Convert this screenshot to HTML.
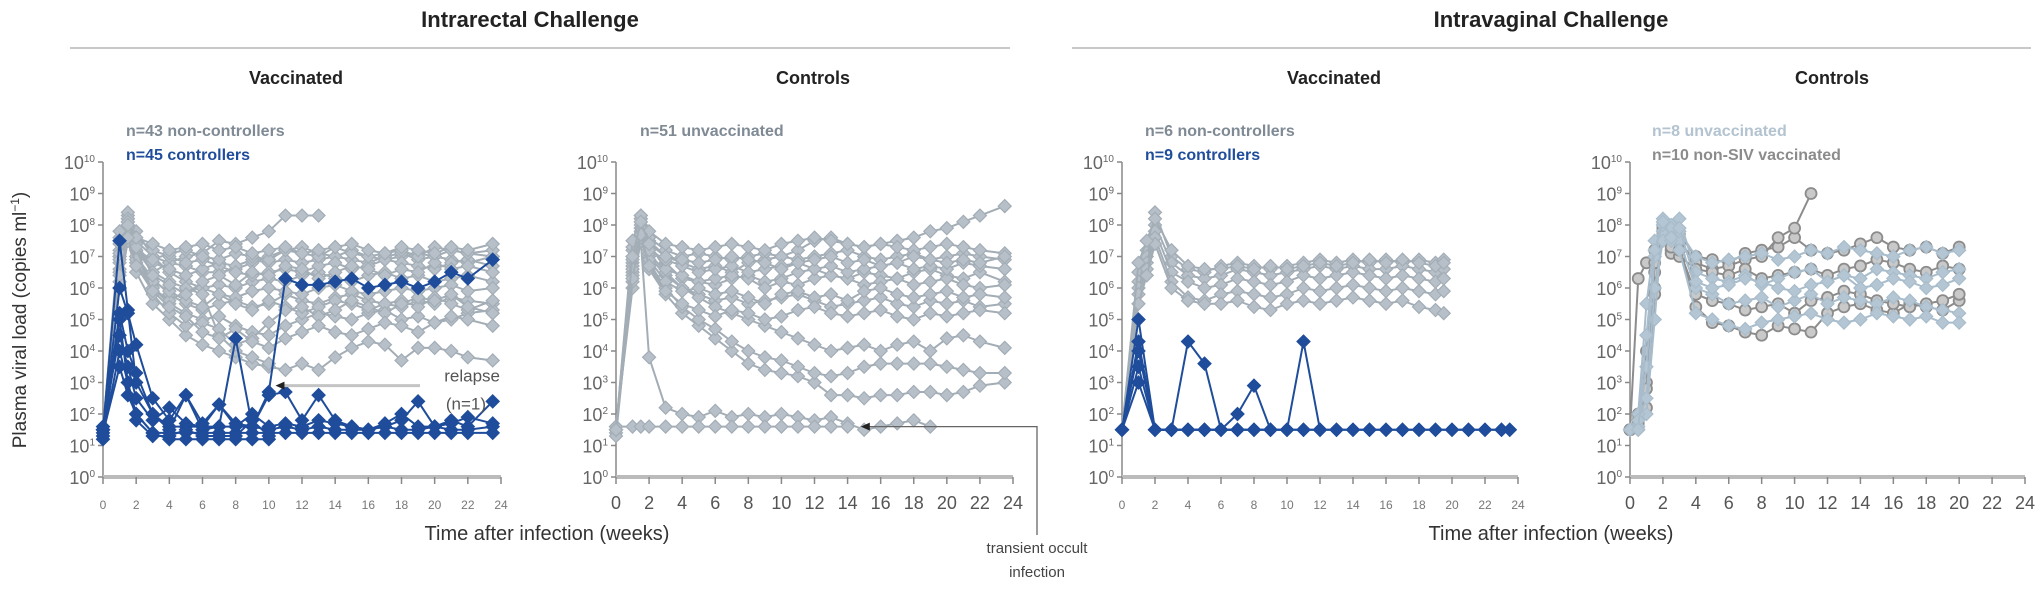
<!DOCTYPE html>
<html><head><meta charset="utf-8">
<style>
html,body{margin:0;padding:0;background:#fff;}
svg{display:block;font-family:"Liberation Sans",Arial,sans-serif;}
</style></head>
<body>
<svg id="chart" width="2041" height="594" viewBox="0 0 2041 594" xmlns="http://www.w3.org/2000/svg">
  <text x="530" y="27" text-anchor="middle" font-size="22" font-weight="bold" fill="#222">Intrarectal Challenge</text>
  <line x1="70" y1="48" x2="1010" y2="48" stroke="#c8c8c8" stroke-width="2"/>
  <text x="1551" y="27" text-anchor="middle" font-size="22" font-weight="bold" fill="#222">Intravaginal Challenge</text>
  <line x1="1072" y1="48" x2="2031" y2="48" stroke="#c8c8c8" stroke-width="2"/>
  <text x="296" y="84" text-anchor="middle" font-size="18" font-weight="bold" fill="#222">Vaccinated</text>
  <text x="813" y="84" text-anchor="middle" font-size="18" font-weight="bold" fill="#222">Controls</text>
  <text x="1334" y="84" text-anchor="middle" font-size="18" font-weight="bold" fill="#222">Vaccinated</text>
  <text x="1832" y="84" text-anchor="middle" font-size="18" font-weight="bold" fill="#222">Controls</text>
  <text transform="translate(26,320) rotate(-90)" text-anchor="middle" font-size="19" fill="#333">Plasma viral load (copies ml<tspan dy="-7" font-size="12">−1</tspan><tspan dy="7">)</tspan></text>
  <text x="547" y="540" text-anchor="middle" font-size="20" fill="#333">Time after infection (weeks)</text>
  <text x="1551" y="540" text-anchor="middle" font-size="20" fill="#333">Time after infection (weeks)</text>
  <g id="panels"></g>
</svg>
<script>
// ---------- data ----------
const yTicks = [0,1,2,3,4,5,6,7,8,9,10];
const xTicks = [0,2,4,6,8,10,12,14,16,18,20,22,24];
const weeksA = [0,1,1.5,2,3,4,5,6,7,8,9,10,11,12,13,14,15,16,17,18,19,20,21,22,23.5];
const p1Grey = [
 [1.5,7,8,7.5,7,6.8,6.7,6.5,6.5,6.6,6.8,7,7.2,7.3,7.1,7,7.2,7,6.9,7,7.1,7,7.2,7.1,7],
 [1.5,7.5,8.2,7.8,7,6.5,6.2,6,6.1,6,6.2,6.3,6.2,6.4,6.5,6.3,6.2,6.4,6.5,6.3,6.4,6.2,6.3,6.4,6.2],
 [1.5,6.5,7.8,7,6.3,5.8,5.5,5.3,5.5,5.6,5.4,5.5,5.8,5.6,5.5,5.7,5.8,5.6,5.5,5.4,5.6,5.5,5.7,5.6,5.5],
 [1.5,7,8.3,7.5,6.5,6.8,7,7.1,7.5,7.4,7.6,7.8,8.3,8.3,8.3],
 [1.5,6,7.5,6.5,5.5,5,4.5,4.2,4,3.8,3.6,3.5,3.4,3.6,3.4,3.8,4.1,4.3,4.2,3.7,4.1,4.1,4,3.8,3.7],
 [1.5,7.2,8,7.3,6.8,6.6,6.4,6.6,6.8,6.7,6.9,6.8,6.9,6.8,6.9,7,6.9,6.8,7,7.1,6.9,7,6.9,6.8,7],
 [1.5,6.8,7.9,7,6,5.5,5.2,5,5.1,4.8,4.6,4.5,4.8,5,5.2,5.1,5,5.2,5.3,5,5.1,4.9,5,5.2,5.3],
 [1.5,7.4,8.1,7.6,7.2,7,6.8,6.9,6.7,6.5,6.4,6.5,6.6,6.5,6.7,6.8,6.6,6.7,6.9,6.8,6.7,6.6,6.8,6.9,6.7],
 [1.5,6.2,7.5,6.8,6,5.6,5.9,6,5.8,5.7,5.9,6,5.9,5.8,6,6.1,5.9,5.8,5.9,6,5.9,6,6.1,5.9,6],
 [1.5,7,7.8,7.2,6.5,6.2,6,5.8,4.5,4,3.8,3.6],
 [1.5,7.6,8.4,7.2,6.9,7.1,7.2,7,6.9,7.1,7,6.9,7.2,7.1,7,7.3,7.1,7,7.1,7.2,7,7.3,7.2,7.1,7.2],
 [1.5,6.6,7.7,6.9,6.2,5.9,5.6,5.4,5.8,5.5,5.3,5.6,5.4,5.2,5.4,5.6,5.5,5.3,5.5,5.6,5.4,5.7,5.5,5.3,5.6],
 [1.5,7.8,8.2,7.4,6.4,6.1,5.8,6.2,6.4,6.1,6.5,6.4,6.7,6.6,6.3,6.5,6.7,6.6,6.4,6.6,6.5,6.8,6.6,6.7,6.5],
 [1.5,6.9,8.1,7.3,5.8,5.2,4.8,4.9,4.7,4.2,4.4,4.9,5.3,5.4,5.1,5.3,5.6,5.4,5.2,5.5,5.7,5.6,5.8,5.4,5.2],
 [1.5,7.1,8,7.6,7.4,7.2,7.3,7.4,7.2,7.3,7.1,7.2,7.3,7.1,7.2,7.3,7.4,7.2,7.1,7.3,7.2,7.1,7.3,7.2,7.4],
 [1.5,6.4,7.6,6.7,5.9,5.4,5.1,4.6,4.4,4.7,4.3,4.1,4.4,4.6,4.8,4.6,4.5,4.7,4.9,4.8,4.6,4.9,5.1,5,4.8]
];
const p1Blue = [
 [1.5,7.5,5.3,3,2,1.6,1.6,1.6,1.6,1.6,1.6,2.7,6.3,6.1,6.1,6.2,6.3,6,6.1,6.2,6,6.2,6.5,6.3,6.9],
 [1.5,5.2,4,3.3,2,1.5,2.6,1.5,1.6,4.4,1.6,1.5,1.6,1.5,1.6,1.5,1.5,1.5,1.6,1.5,1.5,1.6,1.5,1.5,1.6],
 [1.5,6,5.2,4.2,2.5,1.8,2.6,1.7,2.3,1.7,1.6,2.6,2.7,1.8,2.6,1.8,1.6,1.5,1.6,1.8,2.4,1.6,1.8,1.6,2.4],
 [1.2,5,3,2,1.4,1.2,1.2,1.2,1.2,1.2,1.2,1.2],
 [1.6,4.5,3.5,2.5,1.8,2.2,1.7,1.6,2.3,1.6,2,1.6,1.7,1.6,1.8,1.7,1.6,1.5,1.7,2,1.6,1.6,1.7,1.9,1.7],
 [1.4,3.5,2.6,2,1.4,1.4,1.4,1.4,1.4,1.4,1.4,1.4,1.4,1.4,1.4,1.4,1.4,1.4,1.4,1.4,1.4,1.4,1.4,1.4,1.4],
 [1.3,4,3,1.8,1.3,1.3,1.5,1.3,1.3,1.3,1.8,1.3]
];
const p2Grey = [
 [1.5,7,8.2,7.5,7,6.8,6.6,6.7,6.5,6.8,6.9,7,7.2,7.5,7.6,7.4,7.3,7.4,7.5,7.6,7.8,7.9,8.1,8.3,8.6],
 [1.4,6.8,8.1,7.3,6.8,6.3,6.2,6.1,6.3,6.4,6.2,6.3,6.5,6.6,6.4,6.3,6.5,6.4,6.3,6.5,6.6,6.4,6.3,6.5,6.2],
 [1.3,6.5,7.9,7,6.4,6,5.8,5.6,5.7,5.5,5.6,5.7,5.8,5.6,5.4,5.5,5.6,5.7,5.5,5.4,5.6,5.5,5.6,5.4,5.5],
 [1.6,6,7.5,3.8,2.2,2,1.9,2.1,1.9,2,1.9,2,1.9,1.8,1.9,1.7,1.5,1.6,1.7,1.8,1.6],
 [1.6,1.6,1.6,1.6,1.6,1.6,1.6,1.6,1.6,1.6,1.6,1.6,1.6,1.6,1.6,1.6],
 [1.5,6.4,7.6,6.6,5.8,5.2,4.8,4.4,4,3.6,3.4,3.3,3.2,3,2.6,2.6,2.5,2.6,2.6,2.7,2.7,2.6,2.7,2.9,3],
 [1.5,6.2,7.7,6.8,6,5.4,5,4.7,4.3,4,3.8,3.7,3.5,3.3,3.2,3.3,3.5,3.6,3.6,3.6,3.6,3.5,3.4,3.3,3.3],
 [1.5,7.2,8.3,7.6,7.2,7,7.1,7,6.9,7,7.1,7,6.9,7,7.1,7.2,7,6.9,7,7.1,6.9,7,7.1,7,6.9],
 [1.5,6.9,8,7.1,6.5,6,5.7,5.4,5.2,5,4.8,4.6,4.4,4.2,4,4.1,4.2,4,4.2,4.3,4,4.4,4.5,4.3,4.1],
 [1.5,7.3,8.2,7.4,6.6,6.4,6.2,6.3,6.4,6.3,6,6.2,6.1,6.3,6.4,6.3,6.1,6.2,6.3,6.1,6.2,6.3,6.1,6,6.1],
 [1.5,6.7,7.8,6.9,6.2,5.9,6,5.8,5.9,5.7,5.5,5.8,5.9,5.7,5.8,5.6,5.9,6,5.8,5.7,5.8,5.9,5.7,5.8,5.7],
 [1.5,6.6,7.9,7.2,6.9,6.7,6.5,6.6,6.7,6.5,6.6,6.7,6.8,6.6,6.7,6.5,6.6,6.7,6.8,6.6,6.7,6.6,6.8,6.7,6.6],
 [1.5,7.5,8.3,7.8,7.4,7.3,7.2,7.3,7.4,7.3,7.2,7.4,7.5,7.6,7.5,7.4,7.3,7.4,7.3,7.2,7.3,7.4,7.3,7.2,7.1],
 [1.5,6.3,7.7,6.7,5.9,5.5,5.3,5.1,5.3,5.2,5,5.1,5.3,5.4,5.2,5.1,5.2,5.3,5.1,5,5.2,5.1,5.2,5.3,5.2],
 [1.5,7,8.1,7.4,7,6.9,6.8,6.9,7,6.9,6.8,6.6,6.8,6.9,7,6.8,6.9,6.7,6.8,7,6.9,6.8,6.9,6.8,7]
];
const weeksB = [0,1,1.5,2,3,4,5,6,7,8,9,10,11,12,13,14,15,16,17,18,19,19.5];
const p3Grey = [
 [1.5,6.5,7.2,8.4,7,6.6,6.5,6.7,6.8,6.7,6.6,6.7,6.8,6.9,6.8,6.9,6.8,6.9,6.8,6.9,6.8,6.9],
 [1.5,6.2,7,8,6.8,6.4,6.3,6.4,6.6,6.5,6.4,6.5,6.6,6.7,6.6,6.7,6.6,6.6,6.7,6.6,6.5,6.6],
 [1.5,6,6.8,7.8,6.5,6.2,6,6.1,6.3,6.2,6.1,6.2,6.4,6.3,6.4,6.5,6.4,6.3,6.4,6.3,6.2,6.3],
 [1.5,5.8,6.6,7.6,6.2,5.7,5.6,5.8,5.9,5.8,5.7,5.8,6,5.9,6,6.1,6,5.9,6,5.9,5.8,5.9],
 [1.5,5.5,6.4,7.4,6,5.6,5.5,5.5,5.6,5.4,5.3,5.5,5.6,5.5,5.6,5.7,5.6,5.5,5.6,5.4,5.3,5.2],
 [1.5,6.8,7.5,8.2,7.2,6.7,6.6,6.6,6.7,6.6,6.7,6.6,6.7,6.8,6.7,6.8,6.9,6.8,6.9,6.8,6.7,6.8]
];
const weeksC = [0,1,2,3,4,5,6,7,8,9,10,11,12,13,14,15,16,17,18,19,20,21,22,23,23.5];
const p3Blue = [
 [1.5,5,1.5,1.5,1.5,1.5,1.5,1.5,1.5,1.5,1.5,1.5,1.5,1.5,1.5,1.5,1.5,1.5,1.5,1.5,1.5,1.5,1.5,1.5,1.5],
 [1.5,4.3,1.5,1.5,4.3,3.6,1.5,2,2.9,1.5,1.5,4.3,1.5,1.5,1.5,1.5,1.5,1.5,1.5,1.5,1.5,1.5,1.5,1.5,1.5],
 [1.5,4,1.5,1.5,1.5,1.5,1.5,1.5,1.5,1.5,1.5,1.5,1.5],
 [1.5,3.5,1.5,1.5,1.5,1.5,1.5,1.5,1.5,1.5],
 [1.5,3,1.5,1.5,1.5,1.5,1.5,1.5]
];
const weeksD = [0,0.5,1,1.5,2,2.5,3,4,5,6,7,8,9,10,11,12,13,14,15,16,17,18,19,20];
const p4Light = [
 [1.5,1.6,2,5,8.2,7.8,8.2,6.5,6.3,6.2,6.4,6.1,6.3,6.5,6.6,6.2,6.4,6.3,6.6,6.5,6.4,6.3,6.5,6.6],
 [1.5,1.5,3.5,7,7.8,8,7.5,6,5.8,5.5,5.6,5.7,5.4,5.6,5.8,5.5,5.7,5.6,5.5,5.7,5.6,5.4,5.3,5.2],
 [1.5,2,5.5,7.5,8,7.9,7.8,7,6.8,6.9,7,7.1,6.9,7,7.2,7.1,7.3,7.2,7.1,7,7.2,7.3,7.1,7.2],
 [1.5,1.8,2.5,6,7.5,7.5,7.2,5.2,5,4.8,4.7,4.9,5,5.1,5.2,5,4.9,5,5.2,5.1,5,5.1,4.9,4.9],
 [1.5,1.5,4.5,7.2,8.1,7.6,7.9,6.2,6,6.1,6.3,6.2,6,5.9,6.1,6.2,6.4,6,6.1,6.3,6.2,6,6.1,6.3]
];
const p4Dark = [
 [1.5,6.3,6.8,7.2,8,7.6,7.7,7,6.9,6.8,7.1,7.2,7.3,7.6,7.2,7.1,7.2,7.4,7.6,7.3,7.2,7.3,7.1,7.3],
 [1.5,2,4,6.5,7.8,7.4,7.5,6.8,6.6,6.7,6.9,7,7.6,7.9,9],
 [1.5,1.8,3,6.8,7.9,7.2,7.3,5.4,4.9,4.8,4.6,4.5,4.8,4.7,4.6,5.2,5.4,5.5,5.3,5.2,5.5,5.4,5.3,5.6],
 [1.5,1.6,2.8,6,7.6,7.1,7,6.6,6.5,6.4,6.6,6.3,6.4,6.5,6.6,6.4,6.6,6.7,6.9,6.8,6.6,6.5,6.7,6.6],
 [1.5,1.7,2.2,5.8,7.7,7.3,7.2,5.8,5.6,5.5,5.3,5.4,5.5,5.2,5.6,5.7,5.9,5.8,5.6,5.5,5.4,5.5,5.6,5.8]
];
// ---------- layout ----------
const panels = [
 {id:'p1', x0:103, x1:501, xfs:12, xcol:'#777'},
 {id:'p2', x0:616, x1:1013, xfs:18, xcol:'#555'},
 {id:'p3', x0:1122, x1:1518, xfs:12, xcol:'#777'},
 {id:'p4', x0:1630, x1:2025, xfs:18, xcol:'#555'}
];
const yTop = 162, yBot = 477;
const NS = 'http://www.w3.org/2000/svg';
const root = document.getElementById('panels');
function yScale(v){ return yBot - (v/10)*(yBot-yTop); }
function mk(tag, attrs, parent){ const e=document.createElementNS(NS,tag); for(const k in attrs) e.setAttribute(k,attrs[k]); (parent||root).appendChild(e); return e; }
function xScaleFor(p){ return w => p.x0 + (w/24)*(p.x1-p.x0); }

panels.forEach(p => {
  const g = mk('g', {});
  
  
  const xs = xScaleFor(p);
  const yax = mk('line', {x1:p.x0, y1:yTop, x2:p.x0, y2:yBot, stroke:'#888', 'stroke-width':1.5}, g);
  
  
  const xax = mk('line', {x1:p.x0, y1:yBot, x2:p.x1, y2:yBot, stroke:'#bbb', 'stroke-width':4}, g);
  
  
  yTicks.forEach(t => {
    const y = yScale(t);
    mk('line', {x1:p.x0-5, y1:y, x2:p.x0, y2:y, stroke:'#888', 'stroke-width':1.5}, g);
    const tx = mk('text', {x:p.x0-8, y:y+7, 'text-anchor':'end', 'font-size':18, fill:'#666'}, g);
    
    
    tx.textContent = '10';
    const sup = mk('tspan', {dy:-7, 'font-size':10}, tx);
    sup.textContent = String(t);
  });
  xTicks.forEach(t => {
    const x = xs(t);
    mk('line', {x1:x, y1:yBot, x2:x, y2:yBot+7, stroke:'#888', 'stroke-width':1.5}, g);
    const tx = mk('text', {x:x, y:yBot+32, 'text-anchor':'middle', 'font-size':p.xfs, fill:p.xcol}, g);
    
    
    tx.textContent = String(t);
  });
});

function drawSeries(p, weeks, vals, color, marker, name, fill){
  const xs = xScaleFor(p);
  const g = mk('g', {});
  
  
  const pts = vals.map((v,i)=>[xs(weeks[i]), yScale(v)]);
  const pl = mk('polyline', {points: pts.map(q=>q.join(',')).join(' '), fill:'none', stroke:color, 'stroke-width':2}, g);
  
  
  pts.forEach(q => {
    let m;
    if (marker === 'circle') {
      m = mk('circle', {cx:q[0], cy:q[1], r:5.5, fill:fill, stroke:color, 'stroke-width':1.8}, g);
    } else {
      const r = 6.5;
      m = mk('polygon', {points:`${q[0]},${q[1]-r} ${q[0]+r},${q[1]} ${q[0]},${q[1]+r} ${q[0]-r},${q[1]}`, fill:fill, stroke:color, 'stroke-width':1.2}, g);
    }
    
    
  });
}
const GREY='#a3adb6', BLUE='#1f4d9b', LIGHT='#a8bccb', DARK='#8c8c8c';
p1Grey.forEach((s,i)=>drawSeries(panels[0], weeksA, s, GREY, 'diamond', 'p1-noncontroller-'+i, '#b7c0c8'));
p1Blue.forEach((s,i)=>drawSeries(panels[0], weeksA, s, BLUE, 'diamond', 'p1-controller-'+i, BLUE));
p2Grey.forEach((s,i)=>drawSeries(panels[1], weeksA, s, GREY, 'diamond', 'p2-unvaccinated-'+i, '#b7c0c8'));
p3Grey.forEach((s,i)=>drawSeries(panels[2], weeksB, s, GREY, 'diamond', 'p3-noncontroller-'+i, '#b7c0c8'));
p3Blue.forEach((s,i)=>drawSeries(panels[2], weeksC, s, BLUE, 'diamond', 'p3-controller-'+i, BLUE));
p4Dark.forEach((s,i)=>drawSeries(panels[3], weeksD, s, DARK, 'circle', 'p4-nonsiv-'+i, '#c9c9c9'));
p4Light.forEach((s,i)=>drawSeries(panels[3], weeksD, s, LIGHT, 'diamond', 'p4-unvaccinated-'+i, '#b4c6d3'));

// legends
function legend(x, y, txt, color, name){
  const t = mk('text', {x:x, y:y, 'font-size':16, 'font-weight':'bold', fill:color});
  
  
  t.textContent = txt;
}
legend(126, 136, 'n=43 non-controllers', '#7f8a94', 'p1-legend-noncontrollers');
legend(126, 160, 'n=45 controllers', BLUE, 'p1-legend-controllers');
legend(640, 136, 'n=51 unvaccinated', '#7f8a94', 'p2-legend-unvaccinated');
legend(1145, 136, 'n=6 non-controllers', '#7f8a94', 'p3-legend-noncontrollers');
legend(1145, 160, 'n=9 controllers', BLUE, 'p3-legend-controllers');
legend(1652, 136, 'n=8 unvaccinated', '#b3c3d0', 'p4-legend-unvaccinated');
legend(1652, 160, 'n=10 non-SIV vaccinated', '#8c8c8c', 'p4-legend-nonsiv');

// annotations
const xs1 = xScaleFor(panels[0]);
const ya = yScale(2.9);
const rl = mk('line', {x1:xs1(10.8), y1:ya, x2:420, y2:ya, stroke:'#c4c4c4', 'stroke-width':3});


const ra = mk('polygon', {points:`${xs1(10.4)},${ya} ${xs1(10.4)+9},${ya-4} ${xs1(10.4)+9},${ya+4}`, fill:'#222'});


const rt = mk('text', {x:500, y:ya-4, 'text-anchor':'end', 'font-size':17, fill:'#555'});


rt.textContent = 'relapse';
const rt2 = mk('text', {x:486, y:ya+24, 'text-anchor':'end', 'font-size':17, fill:'#555'});


rt2.textContent = '(n=1)';

const xs2 = xScaleFor(panels[1]);
const yt = yScale(1.6);
const tl = mk('polyline', {points:`${xs2(15.2)},${yt} 1037,${yt} 1037,535`, fill:'none', stroke:'#666', 'stroke-width':1.3});


const ta = mk('polygon', {points:`${xs2(14.8)},${yt} ${xs2(14.8)+9},${yt-4} ${xs2(14.8)+9},${yt+4}`, fill:'#222'});


const tt = mk('text', {x:1037, y:553, 'text-anchor':'middle', 'font-size':15, fill:'#444'});


tt.textContent = 'transient occult';
const tt2 = mk('text', {x:1037, y:577, 'text-anchor':'middle', 'font-size':15, fill:'#444'});


tt2.textContent = 'infection';
</script>
</body></html>
